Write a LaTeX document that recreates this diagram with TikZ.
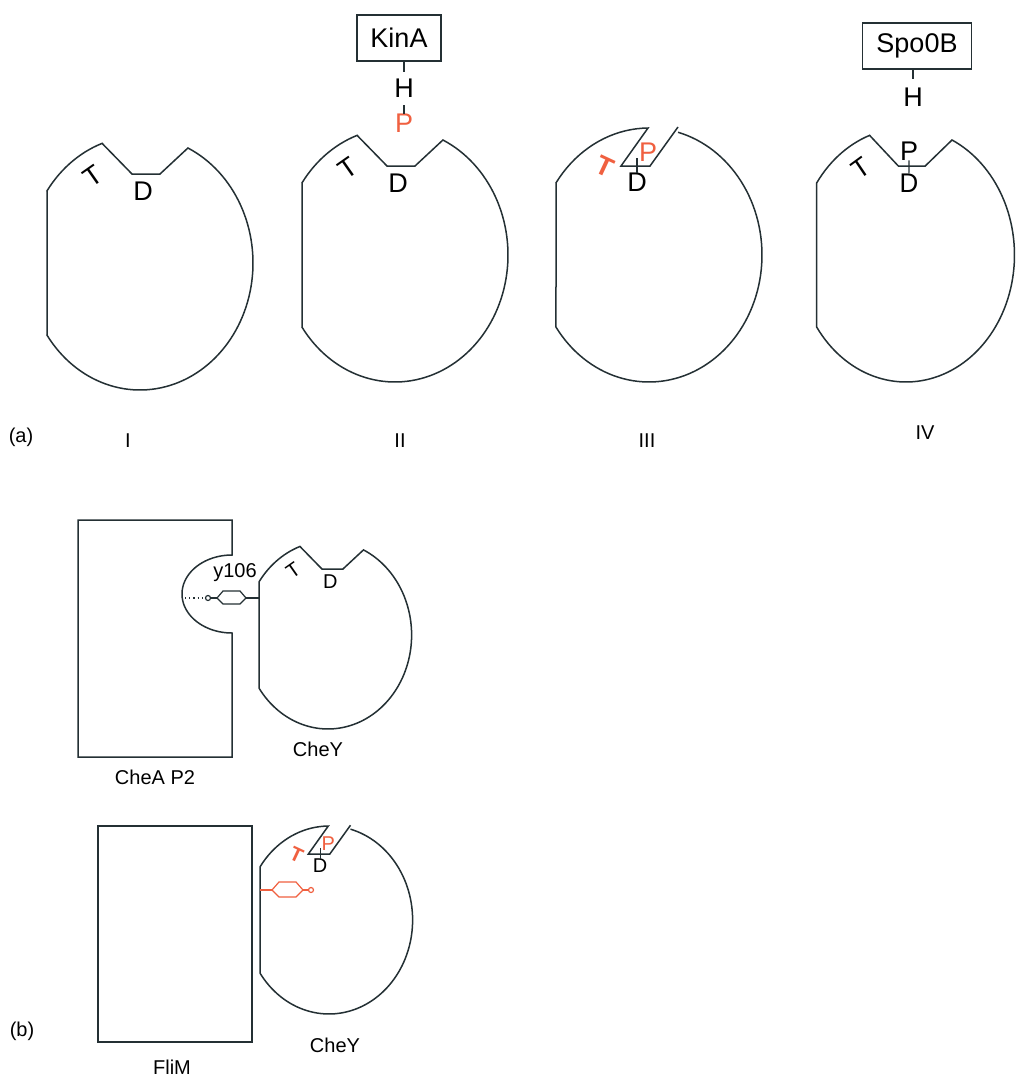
\documentclass[tikz,border=0pt]{standalone}
\usepackage{fontspec}
\setmainfont{Liberation Sans}
\definecolor{ink}{RGB}{36,48,52}
\definecolor{phos}{RGB}{240,96,64}
\tikzset{
  outline/.style={draw=ink, line width=1.5pt, line join=miter},
  thin/.style={draw=ink, line width=1.2pt},
  redthin/.style={draw=phos, line width=1.2pt},
  lbl/.style={inner sep=0pt, font=\fontsize{27}{30}\selectfont, transform shape},
  redlbl/.style={lbl, text=phos},
  caption/.style={inner sep=0pt, font=\fontsize{20}{24}\selectfont},
  tagbox/.style={outline, inner sep=0pt, minimum height=46pt, font=\fontsize{27}{30}\selectfont},
  % receiver domain with the open (inactive) pocket
  recvshut/.pic={
    \draw[outline] (-93,72) -- (-93,-72)
      -- plot[domain=214.6:250.4, samples=16] ({113*cos(\x)},{127*sin(\x)})
      -- (-8,-89) -- (20,-89)
      -- plot[domain=295.1:505.4, samples=90] ({113*cos(\x)},{127*sin(\x)})
      -- cycle;
    \node[lbl, rotate=35] (-T) at (-47,-87) {T};
    \node[lbl] (-D) at (3,-72) {D};
  },
  % receiver domain after phosphorylation (tilted pocket)
  recvopen/.pic={
    \draw[outline] plot[domain=284.9:505.4, samples=90] ({113*cos(\x)},{127*sin(\x)})
      -- (-93,-72)
      -- plot[domain=214.6:269.5, samples=20] ({113*cos(\x)},{127*sin(\x)})
      -- (-28,-89) -- (1,-89) -- (29,-128);
    \node[redlbl, font=\fontsize{27}{30}\selectfont\bfseries, rotate=-25] (-T) at (-44,-88) {T};
    \node[lbl] (-D) at (-12,-73) {D};
    \node[redlbl] (-P) at (-1,-103) {P};
    \draw[thin] (-D.north) -- ++(0,-15);
  }
}
\begin{document}
\begin{tikzpicture}[x=1pt, y=-1pt]
\fill[white] (0,0) rectangle (1016,1079);
\useasboundingbox (0,0) rectangle (1016,1079);

% ---------- panel (a) ----------
\pic (r1) at (140,263) {recvshut};
\pic (r2) at (395,255) {recvshut};
\pic (r3) at (649,255) {recvopen};
\pic[xscale=0.96] (r4) at (906,255) {recvshut};

% KinA donates its phosphoryl group
\node[tagbox, minimum width=84pt] (kina) at (399,38) {KinA};
\node[lbl] (h2) at (404,88) {H};
\node[redlbl] (p2) at (404,123) {P};
\draw[thin, shorten >=7pt] (kina.south -| h2) -- (h2.north);
\draw[thin, shorten <=8pt] (h2.south) -- (p2.north);

% Spo0B receives it
\node[tagbox, minimum width=109pt] (spo) at (917,46) {Spo0B};
\node[lbl] (h4) at (913,97) {H};
\node[lbl] (p4) at (909,151) {P};
\draw[thin, shorten >=9pt] (spo.south -| h4) -- (h4.north);
\draw[thin] (p4.south) -- (r4-D.north);

\node[caption] (tagA) at (21,437) {(a)};
\node[caption] (numI) at (128,441) {I};
\node[caption] (numII) at (400,441) {II};
\node[caption] (numIII) at (647,441) {III};
\node[caption] (numIV) at (925,433) {IV};

% ---------- panel (b) ----------
% CheA P2 with its binding pocket
\draw[outline] (78,520) -- (232,520) -- (232,555)
  -- plot[domain=0:180, samples=50] ({232-50*sin(\x)},{594-39*cos(\x)})
  -- (232,757) -- (78,757) -- cycle;
\node[caption] (chea) at (155,777) {CheA P2};

\pic[scale=0.74] (y1) at (328,635) {recvshut};
\node[caption] (cheyA) at (318,749) {CheY};

% Tyr106 side chain pointing into the pocket
\node[caption] (tyr) at (235,573) {y106};
\node[thin, circle, inner sep=0pt, minimum size=5pt] (oh1) at (208,598) {};
\coordinate (dots1) at (185,598);
\coordinate (ringL1) at (217,598);
\coordinate (ringR1) at (246,598);
\coordinate (edge1) at (259,598);
\draw[thin, line join=miter] (ringL1) -- (223,591) -- (240,591) -- (ringR1) -- (240,604) -- (223,604) -- cycle;
\draw[thin, dash pattern=on 1.2pt off 3pt] (dots1) -- (oh1);
\draw[thin] (oh1) -- (ringL1);
\draw[thin] (ringR1) -- (edge1);

% FliM and activated CheY
\node[outline, minimum width=154pt, minimum height=216pt, inner sep=0pt] (flim) at (175,934) {};
\node[caption] (flimlbl) at (172,1067) {FliM};

\pic[scale=0.74] (y2) at (329,920) {recvopen};
\node[caption] (cheyB) at (335,1045) {CheY};

\coordinate (edge2) at (260,890);
\coordinate (ringL2) at (272,890);
\coordinate (ringR2) at (303,890);
\node[redthin, circle, inner sep=0pt, minimum size=5pt] (oh2) at (311,890) {};
\draw[redthin, line join=miter] (ringL2) -- (279,882) -- (296,882) -- (ringR2) -- (296,897) -- (279,897) -- cycle;
\draw[redthin] (edge2) -- (ringL2);
\draw[redthin] (ringR2) -- (oh2);

\node[caption] (tagB) at (22,1031) {(b)};
\end{tikzpicture}
\end{document}
